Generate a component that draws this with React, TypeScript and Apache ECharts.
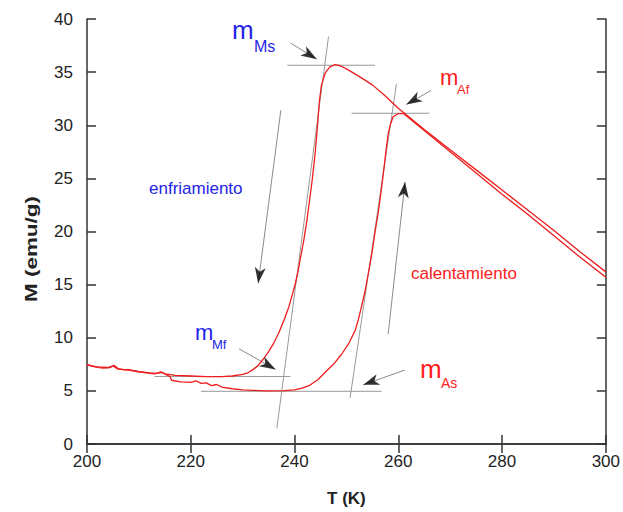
import React, { useEffect, useRef } from "react";
import * as echarts from "echarts";

// ---- data (T in K, M in emu/g) ----
const coolingT = [200, 201, 203, 204.5, 205.2, 206, 207, 208, 210, 212, 213.5, 214.2, 215, 217, 220, 223, 226, 228, 230, 231, 232, 233, 234, 235, 236, 237, 238, 238.9, 239.6, 240.2, 240.7, 241.1, 241.8, 242.4, 243.4, 244, 244.4, 244.8, 245.2, 245.9, 246.8, 247.8, 248.8, 250, 252.3, 255, 257.4, 260, 262, 265, 270, 275, 280, 285, 290, 295, 300];
const coolingM = [7.5, 7.3, 7.15, 7.2, 7.4, 7.1, 7.0, 7.0, 6.8, 6.7, 6.65, 6.8, 6.6, 6.45, 6.4, 6.35, 6.35, 6.4, 6.55, 6.7, 7.0, 7.4, 8.0, 8.7, 9.5, 10.5, 11.7, 12.9, 14.1, 15.2, 16.3, 17.4, 19.2, 21.1, 24.8, 27.5, 29.8, 32.3, 33.8, 34.9, 35.5, 35.7, 35.6, 35.3, 34.65, 33.8, 32.8, 31.6, 30.8, 29.6, 27.7, 25.8, 23.9, 22.0, 20.1, 18.1, 16.2];

const heatingT = [200, 202, 204, 205, 206, 208, 210, 213, 214.5, 215.5, 216, 216.3, 218, 220, 221, 222, 223, 224, 225, 226, 228, 230, 232, 235, 238, 240, 241.5, 243, 244.5, 246, 247.5, 249, 250.5, 251.7, 252.3, 252.9, 253.6, 254.2, 254.9, 255.5, 256.2, 256.8, 257.3, 257.7, 258.1, 258.5, 259, 260, 261, 262, 265, 270, 275, 280, 285, 290, 295, 300];
const heatingM = [7.45, 7.25, 7.2, 7.35, 7.05, 6.95, 6.8, 6.6, 6.75, 6.45, 6.35, 6.0, 5.85, 5.8, 5.95, 5.7, 5.75, 5.5, 5.6, 5.35, 5.2, 5.1, 5.05, 5.0, 5.02, 5.1, 5.25, 5.55, 6.05, 6.8, 7.5, 8.4, 9.5, 10.7, 11.7, 12.9, 14.4, 16.0, 17.9, 19.9, 22.0, 24.2, 26.2, 27.9, 29.3, 30.1, 30.8, 31.1, 31.1, 30.7, 29.5, 27.5, 25.5, 23.5, 21.6, 19.6, 17.6, 15.7];

const xTickValues = [200, 220, 240, 260, 280, 300];
const yTickValues = [0, 5, 10, 15, 20, 25, 30, 35, 40];

// construction lines (data coordinates)
const guideLines: number[][][] = [
  [[238.6, 35.65], [255.5, 35.65]],
  [[246.55, 38.34], [236.59, 1.48]],
  [[213.0, 6.35], [239.2, 6.35]],
  [[221.97, 4.96], [256.76, 4.96]],
  [[259.64, 33.9], [250.71, 4.34]],
  [[251.0, 31.13], [266.0, 31.13]],
];

// arrows: from -> to (data coordinates)
const arrows: { from: number[]; to: number[] }[] = [
  { from: [239.2, 37.75], to: [244.3, 36.21] },
  { from: [266.34, 33.28], to: [261.55, 31.96] },
  { from: [229.31, 8.96], to: [236.34, 7.02] },
  { from: [261.25, 6.96], to: [253.26, 5.57] },
  { from: [237.36, 31.41], to: [233.0, 15.12] },
  { from: [258.05, 10.35], to: [261.3, 24.67] },
];

const FONT = "'Liberation Sans', Arial, sans-serif";
const RED = "#ee1c1c";
const RED_TEXT = "#ff2020";
const BLUE = "#2424e6";
const HEAD = 16;

function pairs(t: number[], m: number[]) {
  return t.map((v, i) => [v, m[i]]);
}

export default function App() {
  const ref = useRef<HTMLDivElement>(null);
  useEffect(() => {
    document.body.style.margin = "0";
    const chart = echarts.init(ref.current!, null, { renderer: "svg" });

    const axisLine = { show: true, lineStyle: { color: "#333", width: 1.5 } };
    const tick = { show: true, inside: true, length: 9, lineStyle: { color: "#333", width: 1.5 } };

    const baseSeries: any[] = [
      ...guideLines.map((seg) => ({
        type: "line",
        data: seg,
        symbol: "none",
        silent: true,
        lineStyle: { color: "#999", width: 1 },
        z: 1,
      })),
      ...arrows.map((a) => ({
        type: "line",
        data: [a.from, a.to],
        symbol: "none",
        silent: true,
        lineStyle: { color: "#8a8a8a", width: 1 },
        z: 1,
      })),
      {
        type: "line",
        name: "enfriamiento",
        data: pairs(coolingT, coolingM),
        symbol: "none",
        lineStyle: { color: RED, width: 1.3 },
        z: 3,
      },
      {
        type: "line",
        name: "calentamiento",
        data: pairs(heatingT, heatingM),
        symbol: "none",
        lineStyle: { color: RED, width: 1.3 },
        z: 3,
      },
    ];

    const textEl = (text: string, x: number, y: number, size: number, color: string) => ({
      type: "text",
      x,
      y,
      style: {
        text,
        fill: color,
        fontSize: size,
        fontFamily: FONT,
        textAlign: "left",
        textVerticalAlign: "middle",
        align: "left",
        verticalAlign: "middle",
      },
      z: 10,
    });

    const option: any = {
      animation: false,
      grid: { left: 87, right: 14, top: 19, bottom: 60 },
      xAxis: [
        {
          type: "value",
          min: xTickValues[0],
          max: xTickValues[xTickValues.length - 1],
          interval: 20,
          axisLine,
          axisTick: tick,
          splitLine: { show: false },
          axisLabel: { fontSize: 17, color: "#222", fontFamily: FONT, margin: 9 },
          name: "T (K)",
          nameLocation: "middle",
          nameGap: 46,
          nameTextStyle: { fontSize: 17, fontWeight: "bold", color: "#222", fontFamily: FONT },
        },
        {
          type: "value",
          position: "top",
          min: xTickValues[0],
          max: xTickValues[xTickValues.length - 1],
          interval: 20,
          axisLine,
          axisTick: tick,
          splitLine: { show: false },
          axisLabel: { show: false },
        },
      ],
      yAxis: [
        {
          type: "value",
          min: yTickValues[0],
          max: yTickValues[yTickValues.length - 1],
          interval: 5,
          axisLine,
          axisTick: tick,
          splitLine: { show: false },
          axisLabel: { fontSize: 17, color: "#222", fontFamily: FONT, margin: 14 },
        },
        {
          type: "value",
          position: "right",
          min: yTickValues[0],
          max: yTickValues[yTickValues.length - 1],
          interval: 5,
          axisLine,
          axisTick: tick,
          splitLine: { show: false },
          axisLabel: { show: false },
        },
      ],
      series: [
        ...baseSeries,
        {
          id: "heads",
          type: "scatter",
          data: [],
          symbol: "path://M5,0 L10,15 L5,11 L0,15 Z",
          symbolSize: [11, HEAD],
          itemStyle: { color: "#000" },
          silent: true,
          z: 5,
        },
      ],
      graphic: [
        {
          type: "text",
          x: 31,
          y: 249,
          rotation: Math.PI / 2,
          scaleX: 1.32,
          style: {
            text: "M (emu/g)",
            fill: "#222",
            fontSize: 17,
            fontWeight: "bold",
            fontFamily: FONT,
            textAlign: "center",
            textVerticalAlign: "middle",
            align: "center",
            verticalAlign: "middle",
          },
        },
        textEl("m", 232, 30, 26, BLUE),
        textEl("Ms", 254, 46, 16, BLUE),
        textEl("m", 440, 77, 22, RED_TEXT),
        textEl("Af", 457, 89, 13, RED_TEXT),
        textEl("m", 195, 332, 22, BLUE),
        textEl("Mf", 212, 344, 13, BLUE),
        textEl("m", 420, 369, 26, RED_TEXT),
        textEl("As", 441, 383, 14, RED_TEXT),
        textEl("enfriamiento", 149, 188, 17, BLUE),
        textEl("calentamiento", 411, 273, 17, RED_TEXT),
      ],
    };

    chart.setOption(option);

    const finder = { seriesIndex: baseSeries.length - 1 };
    const heads = arrows.map((a) => {
      const p0 = chart.convertToPixel(finder, a.from) as number[];
      const p1 = chart.convertToPixel(finder, a.to) as number[];
      const dx = p1[0] - p0[0];
      const dy = p1[1] - p0[1];
      const len = Math.hypot(dx, dy) || 1;
      const c = [p1[0] - (dx / len) * (HEAD / 2), p1[1] - (dy / len) * (HEAD / 2)];
      const v = chart.convertFromPixel(finder, c) as number[];
      const ang = (Math.atan2(-dy, dx) * 180) / Math.PI - 90;
      return { value: v, symbolRotate: ang };
    });
    chart.setOption({ series: [{ id: "heads", data: heads }] });

    return () => chart.dispose();
  }, []);

  return <div ref={ref} style={{ width: 623, height: 512 }} />;
}
